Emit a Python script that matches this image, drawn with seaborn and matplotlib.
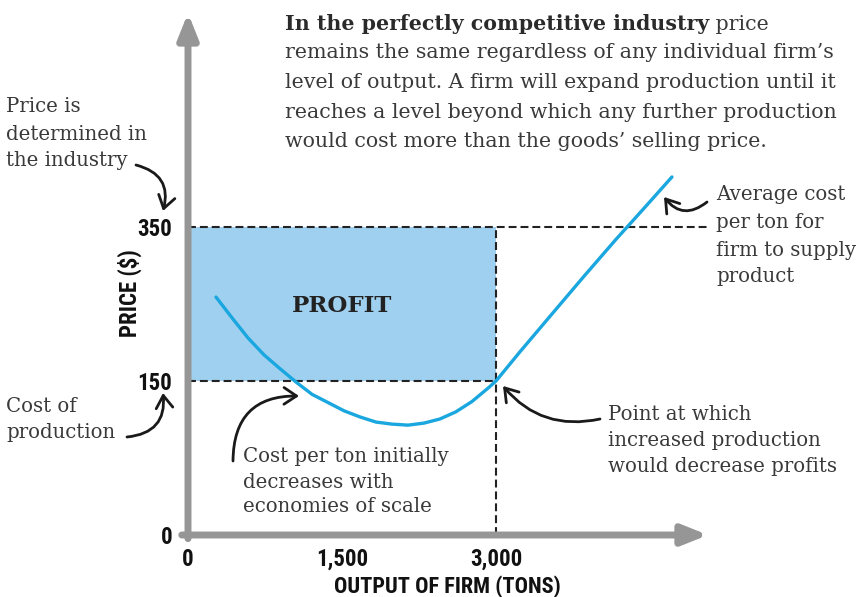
import numpy as np
import matplotlib.pyplot as plt
import seaborn as sns

# average cost curve
output_tons = [273, 429, 584, 740, 896, 1052, 1208, 1364, 1519, 1675, 1831, 1987, 2143,
               2299, 2454, 2610, 2766, 2922, 3000, 3234, 3545, 3857, 4169, 4325, 4480, 4714]
avg_cost = [259, 232, 206, 184, 166, 149, 137, 129, 121, 115, 110, 108, 107,
            109, 113, 120, 130, 143, 150, 188, 237, 286, 334, 357, 380, 415]

market_price = 350
production_cost = 150
best_output = 3000

x_ticks = [0, 1500, 3000]
x_tick_labels = ['0', '1,500', '3,000']
y_ticks = [0, 150, 350]
y_tick_labels = ['0', '150', '350']

W, H = 856, 597
GRAY = '#969696'
TXT = '#3a3a3a'
SERIF = ['DejaVu Serif']
NARROW = ['Roboto Condensed', 'Liberation Sans Narrow', 'DejaVu Sans Condensed', 'Roboto', 'DejaVu Sans']

sns.set_style('white')
plt.rcParams['font.family'] = SERIF


# the price axis is schematic: 0, 150 and 350 sit evenly spaced
def fwd(y):
    y = np.asarray(y, dtype=float)
    return np.where(y <= 150, y / 150, 1 + (y - 150) / 200)


def inv(t):
    t = np.asarray(t, dtype=float)
    return np.where(t <= 1, t * 150, 150 + (t - 1) * 200)


fig = plt.figure(figsize=(W / 100, H / 100), dpi=100)
ax = fig.add_axes([188 / W, (H - 535) / H, (708 - 188) / W, (535 - 13) / H])
ax.set_yscale('function', functions=(fwd, inv))
ax.set_xlim(0, 5065)
ax.set_ylim(0, float(inv((535 - 13) / 154)))
for s in ax.spines.values():
    s.set_visible(False)

# profit area and guide lines
ax.fill_between([0, best_output], production_cost, market_price,
                color='#9fd0ef', lw=0, zorder=1)
dash = dict(color='#222222', lw=1.5, ls=(0, (3.8, 1.9)), zorder=2)
ax.hlines(market_price, 0, 5065, **dash)
ax.hlines(production_cost, 0, best_output, **dash)
ax.vlines(best_output, 0, market_price, **dash)

sns.lineplot(x=output_tons, y=avg_cost, ax=ax, color='#1aa7df', lw=2.4, zorder=3)

# axes with arrow heads
head = dict(arrowstyle='-|>,head_length=0.75,head_width=0.3', color=GRAY,
            lw=5, mutation_scale=20, shrinkA=0, shrinkB=0)
ax.annotate('', xy=(1, 0), xytext=(-0.012, 0), xycoords='axes fraction',
            arrowprops=head, zorder=4)
ax.annotate('', xy=(0, 1), xytext=(0, -0.007), xycoords='axes fraction',
            arrowprops=head, zorder=4)

ax.set_xticks(x_ticks, x_tick_labels)
ax.set_yticks(y_ticks, y_tick_labels)
ax.minorticks_off()
ax.tick_params(length=10, width=2, color=GRAY, pad=1.5, labelcolor='#111111')
ax.tick_params(axis='x', pad=-1)
for lab in ax.get_xticklabels() + ax.get_yticklabels():
    lab.set_family(NARROW)
    lab.set_weight('bold')
    lab.set_fontsize(16.5)


def ftxt(x, y, s, **kw):
    kw.setdefault('color', TXT)
    kw.setdefault('fontsize', 14.2)
    kw.setdefault('va', 'center_baseline')
    return fig.text(x / W, 1 - y / H, s, **kw)


ftxt(342, 304, 'PROFIT', fontsize=16.5, weight='bold', ha='center', color='#222222')
ftxt(130, 293, 'PRICE ($)', family=NARROW, weight='bold', fontsize=16.5,
     rotation=90, ha='center', va='center', color='#111111')
ftxt(447, 587, 'OUTPUT OF FIRM (TONS)', family=NARROW, weight='bold', fontsize=16,
     ha='center', va='center', color='#111111')

# intro paragraph
b = ftxt(285, 22, 'In the perfectly competitive industry', weight='bold',
         color='#2a2a2a', fontsize=14.8)
ext = b.get_window_extent(renderer=fig.canvas.get_renderer())
ftxt(ext.x1, 22, ' price', fontsize=14.8)
para = ['remains the same regardless of any individual firm\u2019s',
        'level of output. A firm will expand production until it',
        'reaches a level beyond which any further production',
        'would cost more than the goods\u2019 selling price.']
for i, line in enumerate(para):
    ftxt(285, 51 + 29.5 * i, line, fontsize=14.8)

notes = [
    (6, [105, 132, 159], ['Price is', 'determined in', 'the industry']),
    (6, [404, 431], ['Cost of', 'production']),
    (243, [455, 480, 505], ['Cost per ton initially', 'decreases with', 'economies of scale']),
    (608, [412, 438, 465], ['Point at which', 'increased production', 'would decrease profits']),
    (716, [193, 221, 248, 275], ['Average cost', 'per ton for', 'firm to supply', 'product']),
]
for x, ys, lines in notes:
    for y, line in zip(ys, lines):
        ftxt(x, y, line)

arrows = [
    ((136, 165), (163, 211), -0.5),
    ((127, 437), (163, 393), 0.5),
    ((233, 461), (299, 396), -0.5),
    ((600, 419), (503, 386), -0.3),
    ((707, 202), (664, 197), -0.5),
]
for (x0, y0), (x1, y1), rad in arrows:
    ax.annotate('', xy=(x1, H - y1), xytext=(x0, H - y0),
                xycoords='figure pixels', textcoords='figure pixels',
                arrowprops=dict(arrowstyle='->,head_length=0.6,head_width=0.4',
                                connectionstyle=f'arc3,rad={rad}', color='#1a1a1a',
                                lw=2, mutation_scale=15, shrinkA=0, shrinkB=0),
                annotation_clip=False, zorder=5)

fig.savefig('out.png', dpi=100)
